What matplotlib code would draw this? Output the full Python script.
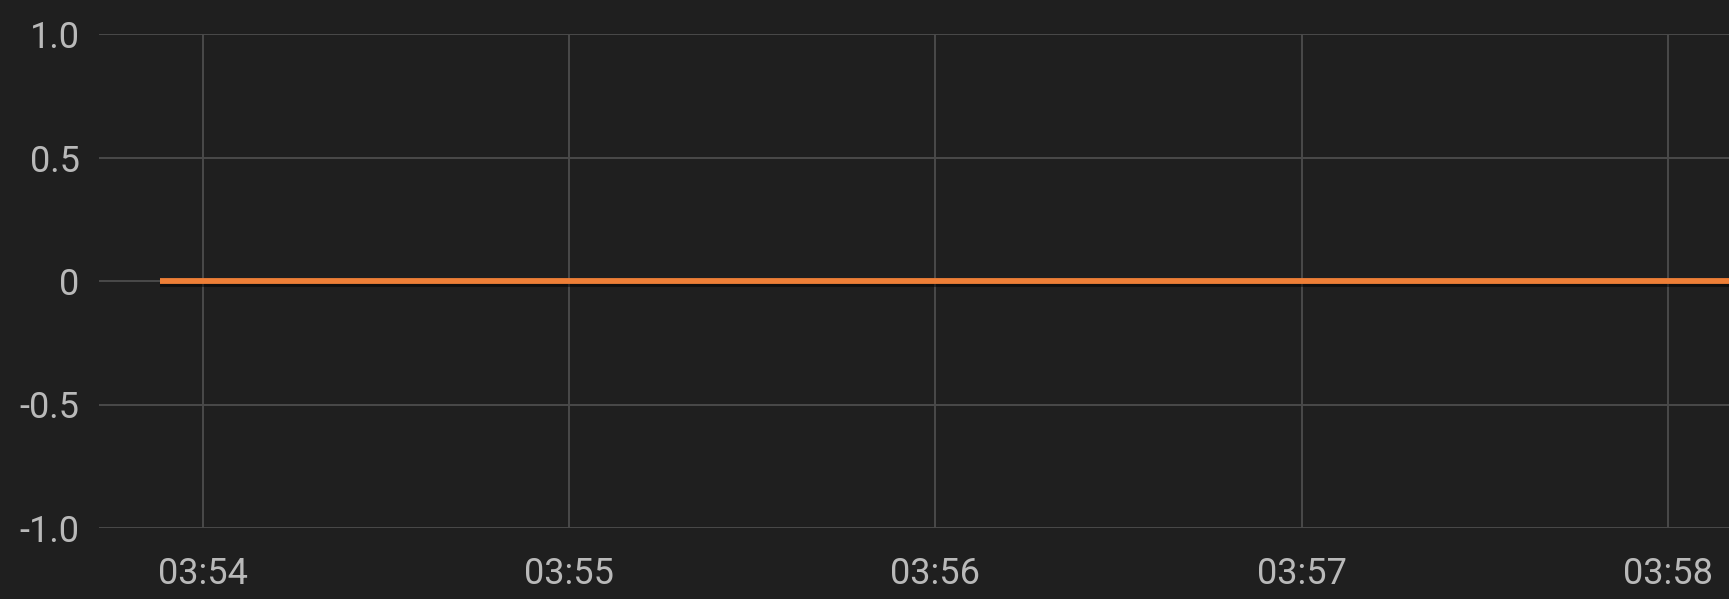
import matplotlib
matplotlib.use("Agg")
import matplotlib.pyplot as plt
import matplotlib.patheffects as pe
import pandas as pd

# ---- data ----
times = ["03:53:53", "03:54:20", "03:54:50", "03:55:20", "03:55:50", "03:56:20",
         "03:56:50", "03:57:20", "03:57:50", "03:58:10", "03:58:20"]
values = [0, 0, 0, 0, 0, 0, 0, 0, 0, 0, 0]
y_ticks = [-1.0, -0.5, 0, 0.5, 1.0]
y_tick_labels = ["-1.0", "-0.5", "0", "0.5", "1.0"]
x_ticks = ["03:54", "03:55", "03:56", "03:57", "03:58"]
x_range = ["03:53:43", "03:58:10"]

day = "2024-01-01 "
t = pd.to_datetime([day + s for s in times])
xt = pd.to_datetime([day + s for s in x_ticks])
xr = pd.to_datetime([day + s for s in x_range])

BG = "#1f1f1f"
GRID = "#4a4a4a"
TXT = "#b9b9b9"
ORANGE = "#ee7f37"

fig = plt.figure(figsize=(17.29, 5.99), dpi=100, facecolor=BG)
ax = fig.add_axes([99 / 1729, 1 - 528 / 599, 1 - 99 / 1729, (528 - 34) / 599])
ax.set_facecolor(BG)

ax.plot(t, values, color=ORANGE, lw=4.2, solid_capstyle="butt",
        path_effects=[pe.SimpleLineShadow(offset=(0, -2), shadow_color="black", alpha=0.5),
                      pe.Normal()], zorder=3)

ax.set_ylim(-1, 1)
ax.set_xlim(xr[0], xr[1])
ax.set_yticks(y_ticks)
ax.set_yticklabels(y_tick_labels)
ax.set_xticks(xt)
ax.set_xticklabels(x_ticks)

for s in ax.spines.values():
    s.set_visible(False)
ax.grid(True, color=GRID, lw=1.4)
ax.set_axisbelow(True)

fam = ["Roboto", "DejaVu Sans"]
ax.tick_params(axis="both", length=0, colors=TXT, labelsize=26)
ax.tick_params(axis="y", pad=14)
ax.tick_params(axis="x", pad=20)
for lab in ax.get_xticklabels() + ax.get_yticklabels():
    lab.set_fontfamily(fam)
    lab.set_color(TXT)

fig.savefig("out.png", dpi=100, facecolor=BG)
